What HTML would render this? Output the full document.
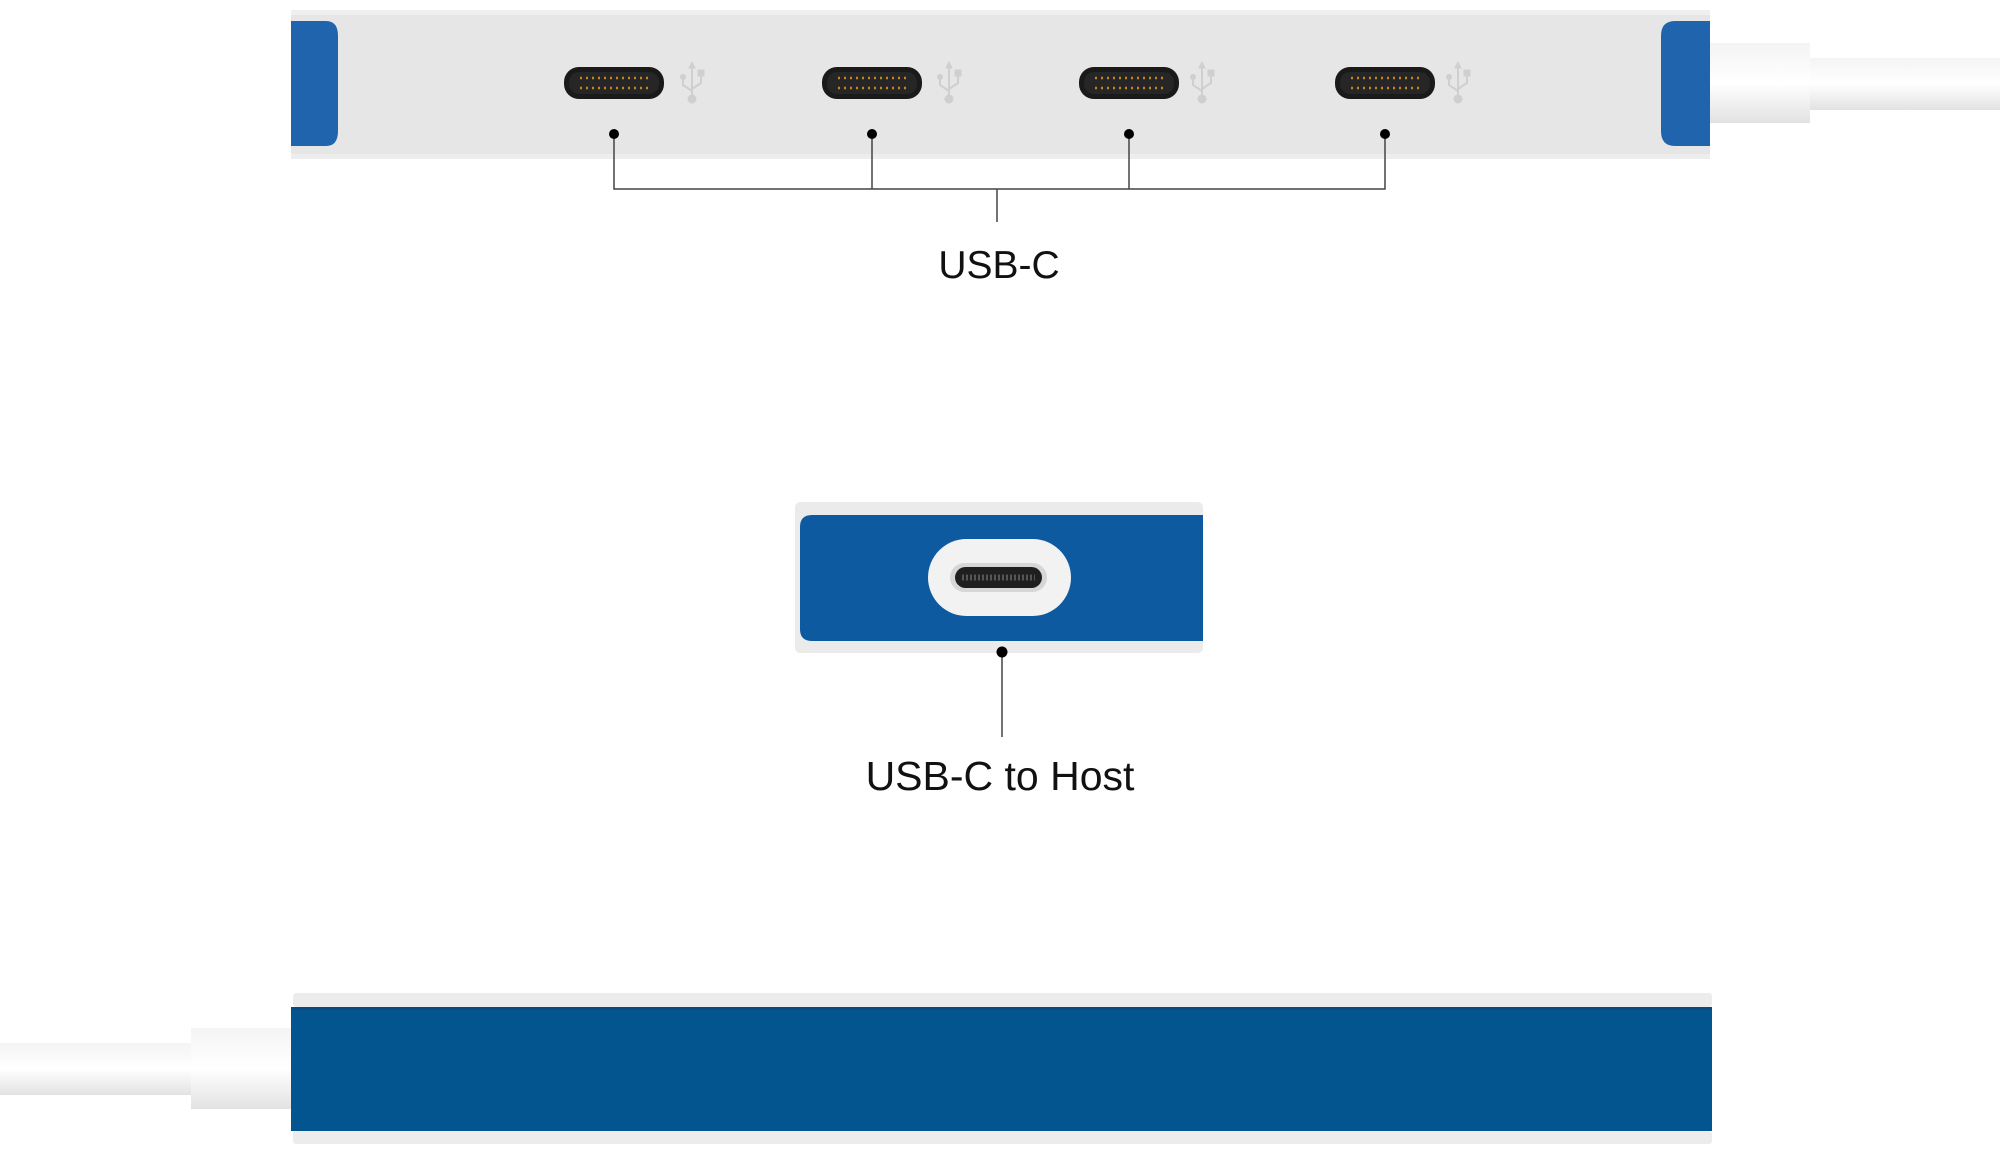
<!DOCTYPE html>
<html><head><meta charset="utf-8"><style>
html,body{margin:0;padding:0;background:#fff;}
svg{display:block;}
text{font-family:"Liberation Sans",sans-serif;fill:#111;}
</style></head><body>
<svg width="2000" height="1153" viewBox="0 0 2000 1153" xmlns="http://www.w3.org/2000/svg">
<defs>
<linearGradient id="cab" x1="0" y1="0" x2="0" y2="1">
<stop offset="0" stop-color="#f4f4f4"/><stop offset="0.5" stop-color="#ffffff"/><stop offset="1" stop-color="#e2e2e2"/>
</linearGradient>
<g id="port">
<rect x="-50" y="-16" width="100" height="32" rx="15" fill="#1a1a1a"/>
<rect x="-45" y="-11" width="90" height="22" rx="10" fill="#262626"/>
<line x1="-34" y1="-5" x2="34" y2="-5" stroke="#c8861a" stroke-width="2.5" stroke-dasharray="2 4"/>
<line x1="-34" y1="5" x2="34" y2="5" stroke="#c8861a" stroke-width="2.5" stroke-dasharray="2 4"/>
</g>
<g id="usb" fill="#cfcfcf" stroke="#cfcfcf">
<line x1="0" y1="-20" x2="0" y2="14" stroke-width="2"/>
<path d="M-3,-15 L0,-21 L3,-15Z"/>
<path d="M-9,-5 L-9,2 L0,8" fill="none" stroke-width="2"/>
<path d="M9,-9 L9,0 L0,6" fill="none" stroke-width="2"/>
<circle cx="-9" cy="-6" r="2.5"/>
<rect x="6" y="-13" width="6" height="6"/>
<circle cx="0" cy="16" r="4"/>
</g>
</defs>

<!-- TOP HUB -->
<rect x="1710" y="58" width="290" height="52" fill="url(#cab)"/>
<rect x="1710" y="43" width="100" height="80" fill="url(#cab)"/>
<rect x="291" y="10" width="1419" height="149" rx="4" fill="#e6e6e6"/>
<rect x="291" y="10" width="1419" height="5" fill="#efefef"/>
<rect x="291" y="154" width="1419" height="5" fill="#ededed"/>
<path d="M291,21 L326,21 Q338,21 338,36 L338,131 Q338,146 326,146 L291,146Z" fill="#1f64ad"/>
<path d="M1710,21 L1675,21 Q1661,21 1661,36 L1661,131 Q1661,146 1675,146 L1710,146Z" fill="#1f64ad"/>

<use href="#port" x="614" y="83"/><use href="#usb" x="692" y="83"/>
<use href="#port" x="872" y="83"/><use href="#usb" x="949" y="83"/>
<use href="#port" x="1129" y="83"/><use href="#usb" x="1202" y="83"/>
<use href="#port" x="1385" y="83"/><use href="#usb" x="1458" y="83"/>

<g stroke="#444" stroke-width="1.5" fill="none">
<path d="M614,134 V189 H1385 V134"/>
<line x1="872" y1="134" x2="872" y2="189"/>
<line x1="1129" y1="134" x2="1129" y2="189"/>
<line x1="997" y1="189" x2="997" y2="222"/>
<line x1="1002" y1="652" x2="1002" y2="737"/>
</g>
<g fill="#000">
<circle cx="614" cy="134" r="5"/><circle cx="872" cy="134" r="5"/>
<circle cx="1129" cy="134" r="5"/><circle cx="1385" cy="134" r="5"/>
</g>
<text x="999" y="278" font-size="39" text-anchor="middle">USB-C</text>

<!-- MIDDLE -->
<rect x="795" y="502" width="408" height="151" rx="5" fill="#ebebeb"/>
<path d="M812,515 L1203,515 L1203,641 L812,641 Q800,641 800,629 L800,527 Q800,515 812,515Z" fill="#0d5aa0"/>
<rect x="928" y="539" width="143" height="77" rx="38.5" fill="#f2f2f2"/>
<rect x="950" y="563" width="97" height="29" rx="14.5" fill="#d6d6d6"/>
<rect x="955" y="567" width="87" height="21" rx="10.5" fill="#1f1f1f"/>
<line x1="962" y1="577.5" x2="1035" y2="577.5" stroke="#555" stroke-width="6" stroke-dasharray="2 2"/>
<circle cx="1002" cy="652" r="5.5" fill="#000"/>
<text x="1000" y="790" font-size="41" text-anchor="middle">USB-C to Host</text>

<!-- BOTTOM HUB -->
<rect x="0" y="1043" width="191" height="52" fill="url(#cab)"/>
<rect x="191" y="1028" width="100" height="81" fill="url(#cab)"/>
<rect x="293" y="993" width="1419" height="14" rx="3" fill="#ececec"/>
<rect x="291" y="1007" width="1421" height="124" fill="#02558f"/>
<rect x="291" y="1007" width="1421" height="3" fill="#0a4a80"/>
<rect x="293" y="1131" width="1419" height="13" rx="3" fill="#ececec"/>
</svg>
</body></html>
